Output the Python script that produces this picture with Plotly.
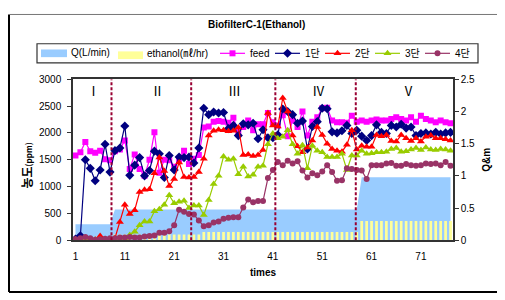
import numpy as np
import plotly.graph_objects as go

# ---------------- data ----------------
times = list(range(1, 78))

q_lmin = [0.25] * 8 + [0.48] * 50 + [0.98] * 19
ethanol_ml_hr = [0.05] * 8 + [0.09] * 18 + [0.13] * 32 + [0.30] * 19

feed = [1580, 1640, 1830, 1660, 1630, 1670, 1510, 1490, 1660, 1690,
        1860, 1330, 1600, 1330, 1200, 1500, 2010, 1260, 1500, 1490,
        1370, 1500, 1670, 1420, 1520, 1590, 2100, 2120, 2210, 2220,
        2210, 2190, 2280, 2020, 2110, 2230, 2050, 2160, 2160, 2370,
        2200, 2140, 2330, 1940, 2230, 2110, 2400, 1950, 2210, 2290,
        2460, 2470, 2230, 2200, 2200, 2190, 2320, 2210, 2230, 2210,
        2230, 2250, 2230, 2230, 2260, 2290, 2260, 2230, 2290, 2210,
        2320, 2260, 2230, 2200, 2230, 2200, 2180]

stage1 = [24, 83, 1500, 1340, 1110, 1310, 1790, 1270, 1670, 1720,
          2130, 1210, 1400, 1540, 1200, 1300, 1660, 1610, 1170, 1580,
          1310, 1550, 1540, 1550, 1440, 1720, 2460, 2340, 2390, 2370,
          2380, 2080, 2140, 1950, 2170, 2150, 2180, 1890, 2060, 1910,
          1910, 1965, 2445, 2400, 2340, 2180, 2220, 1700, 2120, 2210,
          2460, 2450, 2020, 2000, 2040, 2140, 1990, 2050, 1940, 1860,
          1950, 2150, 2010, 1990, 2140, 2110, 2160, 2090, 2110, 1950,
          1990, 2000, 1980, 2010, 1980, 2000, 2010]

stage2 = [20, 10, 0, 0, 10, 80, 20, 10, 40, 340,
          660, 490, 560, 900, 940, 950, 1250, 1540, 1290, 1010,
          1140, 1450, 1180, 1170, 1180, 1270, 1520, 1950, 2040, 2060,
          2050, 2030, 2040, 2100, 1590, 1600, 1570, 1590, 1680, 2370,
          2140, 2120, 2650, 2400, 1950, 1750, 1640, 1730, 1860, 2110,
          1960, 1800, 1700, 1670, 1650, 1780, 2050, 1690, 1760, 1740,
          1740, 1960, 1940, 1960, 1850, 1840, 1960, 1900, 1850, 1900,
          1840, 1930, 1950, 1900, 1900, 1880, 1860]

stage3 = [10, 20, 10, 0, 10, 10, 20, 10, 10, 20,
          40, 100, 160, 280, 350, 350, 540, 580, 660, 840,
          690, 720, 735, 600, 650, 650, 470, 750, 1050, 1200,
          1560, 1500, 1520, 1230, 1370, 1190, 1220, 1370, 1390, 1790,
          1990, 1900, 1930, 2050, 1790, 1610, 1770, 1340, 1760, 1670,
          1640, 1550, 1550, 1550, 1610, 1310, 1580, 1580, 1670, 1610,
          1620, 1640, 1640, 1650, 1700, 1720, 1650, 1660, 1690, 1720,
          1680, 1730, 1690, 1680, 1700, 1690, 1670]

stage4 = [20, 40, 60, 40, 10, 20, 30, 40, 40, 50,
          50, 60, 50, 50, 70, 80, 90, 140, 140, 170,
          280, 570, 530, 490, 480, 370, 260, 280, 330, 350,
          400, 420, 430, 430, 610, 760, 710, 730, 730, 1160,
          1310, 1460, 1400, 1480, 1430, 1470, 1300, 1170, 1250, 1210,
          1280, 1400, 1270, 1110, 1120, 1340, 1330, 1310, 1300, 1140,
          1400, 1400, 1400, 1430, 1440, 1390, 1390, 1420, 1400, 1390,
          1400, 1430, 1420, 1430, 1400, 1460, 1390]

x_tick_vals = [1, 11, 21, 31, 41, 51, 61, 71]
left_ticks = [0, 500, 1000, 1500, 2000, 2500, 3000]
right_ticks = [0, 0.5, 1, 1.5, 2, 2.5]
right_tick_text = ["0", "0.5", "1", "1.5", "2", "2.5"]

phase_labels = ["Ⅰ", "Ⅱ", "Ⅲ", "Ⅳ", "Ⅴ"]
phase_label_x = [4.65, 17.6, 33.2, 50.3, 68.5]
phase_bounds = [8.3, 24.45, 41.5, 57.8]

series = [
    ("feed", feed, "#FF00FF", "square", 6),
    ("1단", stage1, "#000080", "diamond", 7),
    ("2단", stage2, "#FF0000", "triangle-up", 7),
    ("3단", stage3, "#99CC00", "triangle-up", 7),
    ("4단", stage4, "#993366", "circle", 6),
]
Q_COLOR = "#99CCFF"
ETH_COLOR = "#FFFF99"

# ---------------- geometry helpers ----------------
# the page body has an 8px margin, so the figure starts at (8, 8) in the window
OFF = 8
W, H = 505 - OFF, 300 - OFF
FONT = "Liberation Sans, Arial, Noto Sans CJK KR, sans-serif"


def px(x):
    return (x - OFF) / W


def py(y):
    return 1 - (y - OFF) / H


xdom = [px(73), px(453)]
ydom = [py(244), py(76)]
AX = "#333333"

fig = go.Figure()

# Q area (drawn first, bottom layer)
fig.add_trace(go.Scatter(x=times, y=q_lmin, xaxis="x", yaxis="y", mode="lines",
                         line=dict(width=0, color=Q_COLOR), fill="tozeroy",
                         fillcolor=Q_COLOR, name="Q(L/min)", hoverinfo="skip"))
# ethanol bars
fig.add_trace(go.Bar(x=times, y=ethanol_ml_hr, xaxis="x", yaxis="y2",
                     marker=dict(color=ETH_COLOR, line=dict(width=0)),
                     width=0.55, name="ethanol(㎖/hr)"))
# concentration lines
for name, vals, color, sym, size in series:
    fig.add_trace(go.Scatter(x=times, y=vals, xaxis="x", yaxis="y3",
                             mode="lines+markers", name=name,
                             line=dict(color=color, width=1.2),
                             marker=dict(symbol=sym, size=size, color=color,
                                         line=dict(width=0))))

shapes = []
annotations = []

# phase boundaries
for b in phase_bounds:
    shapes.append(dict(type="line", xref="x", yref="y3", x0=b, x1=b, y0=0, y1=3000,
                       line=dict(color="#990033", width=2, dash="3px,2px")))
for lab, lx in zip(phase_labels, phase_label_x):
    annotations.append(dict(xref="x", yref="paper", x=lx, y=py(88), text=lab,
                            showarrow=False, xanchor="center", yanchor="middle",
                            font=dict(family="Noto Sans CJK KR", size=13, color="black")))

# chart frame
shapes += [
    dict(type="line", xref="paper", yref="paper", x0=px(9), x1=px(9), y0=py(8.5), y1=py(298),
         line=dict(color="black", width=2)),
    dict(type="line", xref="paper", yref="paper", x0=px(9), x1=1.01, y0=py(298), y1=py(298),
         line=dict(color="black", width=2)),
    dict(type="line", xref="paper", yref="paper", x0=px(9), x1=1.01, y0=py(8.5), y1=py(8.5),
         line=dict(color="#777777", width=1)),
]

# title and axis titles
center = dict(showarrow=False, xanchor="center", yanchor="middle")
annotations += [
    dict(xref="paper", yref="paper", x=px(257), y=py(19), text="<b>BiofilterC-1(Ethanol)</b>",
         font=dict(family=FONT, size=10, color="black"), **center),
    dict(xref="paper", yref="paper", x=px(263), y=py(278), text="<b>times</b>",
         font=dict(family=FONT, size=10, color="black"), **center),
    dict(xref="paper", yref="paper", x=px(487), y=py(160), text="<b>Q&amp;m</b>",
         textangle=-90, font=dict(family=FONT, size=10, color="black"), **center),
    dict(xref="paper", yref="paper", x=px(27), y=py(166),
         text="<b>농도<span style=\"font-size:8px\">(ppm)</span></b>",
         textangle=-90,
         font=dict(family="Noto Sans CJK KR, Liberation Sans", size=12, color="black"),
         **center),
]

# legend (custom, in pixel coordinates converted to paper)
shapes.append(dict(type="rect", xref="paper", yref="paper", x0=px(37), x1=px(478),
                   y0=py(39), y1=py(59), line=dict(color="#333333", width=1.2),
                   fillcolor="white", layer="below"))
rect_items = [("Q(L/min)", Q_COLOR, 41, 67, 45, 53, 69, 48),
              ("ethanol(㎖/hr)", ETH_COLOR, 118, 143, 47, 55, 145, 49.5)]
for label, color, x0, x1, y0, y1, tx, ty in rect_items:
    shapes.append(dict(type="rect", xref="paper", yref="paper", x0=px(x0), x1=px(x1),
                       y0=py(y0), y1=py(y1), line=dict(width=0), fillcolor=color))
    annotations.append(dict(xref="paper", yref="paper", x=px(tx), y=py(ty), text=label,
                            showarrow=False, xanchor="left", yanchor="middle",
                            font=dict(family=FONT, size=10, color="black")))
line_item_x = [220, 275, 325, 375, 425]
for (name, vals, color, sym, size), lx in zip(series, line_item_x):
    shapes.append(dict(type="line", xref="paper", yref="paper", x0=px(lx), x1=px(lx + 25),
                       y0=py(49), y1=py(49), line=dict(color=color, width=1.2)))
    fig.add_trace(go.Scatter(x=[lx + 12.5], y=[49], xaxis="x2", yaxis="y4", mode="markers",
                             marker=dict(symbol=sym, size=size, color=color, line=dict(width=0)),
                             hoverinfo="skip", cliponaxis=False))
    annotations.append(dict(xref="paper", yref="paper", x=px(lx + 28), y=py(49.5), text=name,
                            showarrow=False, xanchor="left", yanchor="middle",
                            font=dict(family=FONT, size=10, color="black")))

tickfont = dict(family=FONT, size=10, color="black")
fig.update_layout(
    width=W, height=H, margin=dict(l=0, r=0, t=0, b=0),
    paper_bgcolor="white", plot_bgcolor="white", showlegend=False,
    xaxis=dict(domain=xdom, range=[0.5, 77.5], anchor="y", tickmode="array",
               tickvals=x_tick_vals, ticks="", showline=True, linecolor=AX, linewidth=1.5,
               mirror=True, showgrid=False, zeroline=False, tickfont=tickfont,
               ticklabelstandoff=6),
    xaxis3=dict(domain=xdom, range=[0.5, 77.5], overlaying="x", anchor="y", side="bottom",
                tickmode="linear", tick0=0.5, dtick=1, ticks="inside", ticklen=3,
                tickcolor=AX, showticklabels=False, showline=False, showgrid=False,
                zeroline=False),
    yaxis=dict(domain=ydom, range=[0, 2.5], side="right", anchor="x", tickmode="array",
               tickvals=right_ticks, ticktext=right_tick_text, ticks="outside", ticklen=4,
               tickcolor=AX, showline=True, linecolor=AX, linewidth=1.5, showgrid=False,
               zeroline=False, tickfont=tickfont),
    yaxis2=dict(range=[0, 2.5], overlaying="y", anchor="x", visible=False),
    yaxis3=dict(range=[0, 3000], overlaying="y", side="left", anchor="x", tickmode="array",
                tickvals=left_ticks, ticks="outside", ticklen=4, tickcolor=AX, showline=True,
                linecolor=AX, linewidth=1.5, showgrid=False, zeroline=False, tickfont=tickfont,
                ticklabelstandoff=4),
    xaxis2=dict(domain=[px(37), px(478)], range=[37, 478], anchor="y4", visible=False,
                fixedrange=True),
    yaxis4=dict(domain=[py(59), py(39)], range=[59, 39], anchor="x2", visible=False,
                fixedrange=True),
    shapes=shapes, annotations=annotations,
)

fig.write_html("out.html")
